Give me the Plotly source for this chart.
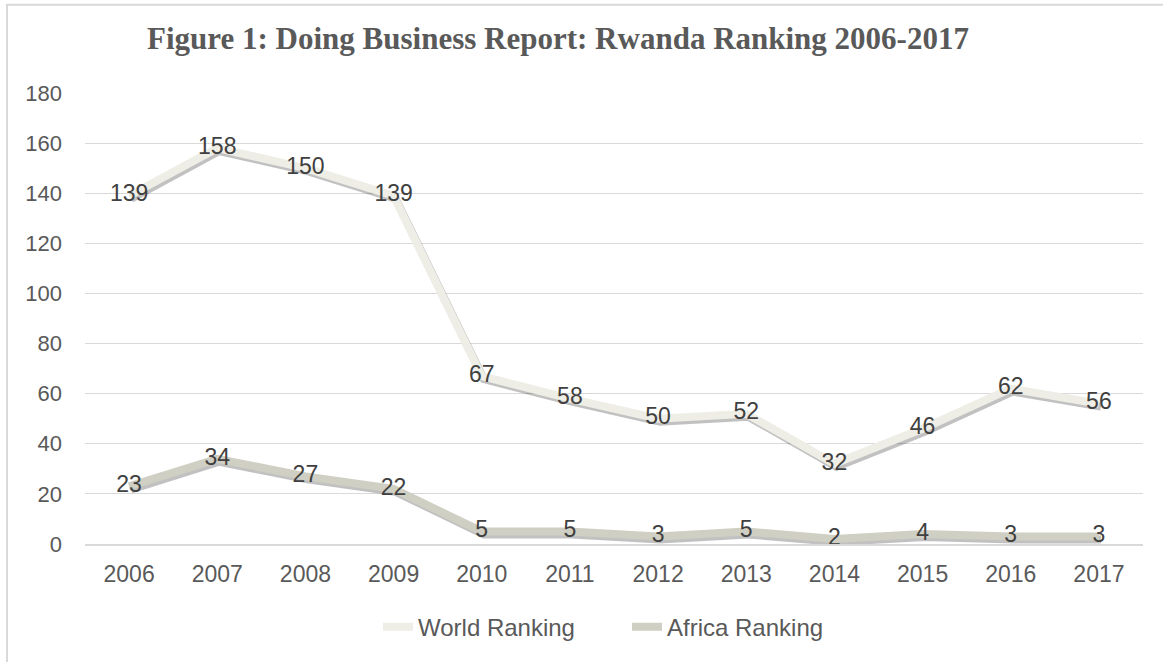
import plotly.graph_objects as go

years = ["2006", "2007", "2008", "2009", "2010", "2011", "2012", "2013", "2014", "2015", "2016", "2017"]
world_ranking = [139, 158, 150, 139, 67, 58, 50, 52, 32, 46, 62, 56]
africa_ranking = [23, 34, 27, 22, 5, 5, 3, 5, 2, 4, 3, 3]
y_ticks = [0, 20, 40, 60, 80, 100, 120, 140, 160, 180]

W, H = 1163, 662
L, R, T, B = 85, 20, 93, 114
pw, ph = W - L - R, H - T - B
idx = list(range(len(years)))

xr = [-0.5, len(years) - 0.5]
yr = [0, 180]
# shadow offset: 2px right, 3px down
dx = 2 * (xr[1] - xr[0]) / pw
dy = 3 * (yr[1] - yr[0]) / ph

FONT = "Liberation Sans, Arial"
fig = go.Figure()

# invisible trace so the base axes are drawn
fig.add_trace(go.Scatter(x=idx, y=world_ranking, mode="lines", line=dict(width=0, color="rgba(0,0,0,0)"),
                         showlegend=False, hoverinfo="skip"))

# shadows
for vals in (world_ranking, africa_ranking):
    fig.add_trace(go.Scatter(x=idx, y=vals, mode="lines", xaxis="x2", yaxis="y2",
                             line=dict(color="rgba(50,50,50,0.3)", width=8),
                             showlegend=False, hoverinfo="skip"))

fig.add_trace(go.Scatter(x=idx, y=world_ranking, mode="lines+text", name="World Ranking",
                         xaxis="x3", yaxis="y3",
                         line=dict(color="#EEEEE6", width=8),
                         text=[str(v) for v in world_ranking], textposition="middle center",
                         textfont=dict(family=FONT, size=23, color="#404040")))
fig.add_trace(go.Scatter(x=idx, y=africa_ranking, mode="lines+text", name="Africa Ranking",
                         xaxis="x3", yaxis="y3",
                         line=dict(color="#CFCFC3", width=8),
                         text=[str(v) for v in africa_ranking], textposition="middle center",
                         textfont=dict(family=FONT, size=23, color="#404040")))

fig.update_layout(
    width=W, height=H,
    margin=dict(l=L, r=R, t=T, b=B),
    paper_bgcolor="white", plot_bgcolor="white",
    title=dict(text="<b>Figure 1: Doing Business Report: Rwanda Ranking 2006-2017</b>",
               font=dict(family="Liberation Serif, Times New Roman", size=31, color="#595959"),
               x=558 / W, xref="container", xanchor="center",
               y=1 - 38 / H, yref="container", yanchor="middle"),
    xaxis=dict(range=xr, tickmode="array", tickvals=idx, ticktext=years,
               showgrid=False, zeroline=False, showline=True, linecolor="#D9D9D9", linewidth=2,
               ticks="", tickfont=dict(family=FONT, size=23, color="#595959"), ticklabelstandoff=8),
    yaxis=dict(range=yr, tickmode="array", tickvals=y_ticks,
               showgrid=True, gridcolor="#D9D9D9", gridwidth=1, zeroline=False,
               showline=False, ticks="", tickfont=dict(family=FONT, size=22, color="#595959"),
               ticklabelstandoff=22),
    xaxis2=dict(range=[xr[0] - dx, xr[1] - dx], overlaying="x", visible=False),
    yaxis2=dict(range=[yr[0] + dy, yr[1] + dy], overlaying="y", visible=False),
    xaxis3=dict(range=xr, overlaying="x", visible=False),
    yaxis3=dict(range=yr, overlaying="y", visible=False),
    legend=dict(orientation="h", x=(627 - L) / pw, xanchor="center",
                y=(H - B - 632) / ph, yanchor="middle",
                font=dict(family=FONT, size=24, color="#595959"),
                entrywidth=204, traceorder="normal"),
    shapes=[dict(type="rect", xref="paper", yref="paper",
                 x0=(7 - L) / pw, x1=1.2, y0=-0.5, y1=(H - B - 4) / ph,
                 line=dict(color="#D9D9D9", width=2), layer="below")],
)

fig.write_html("out.html")
